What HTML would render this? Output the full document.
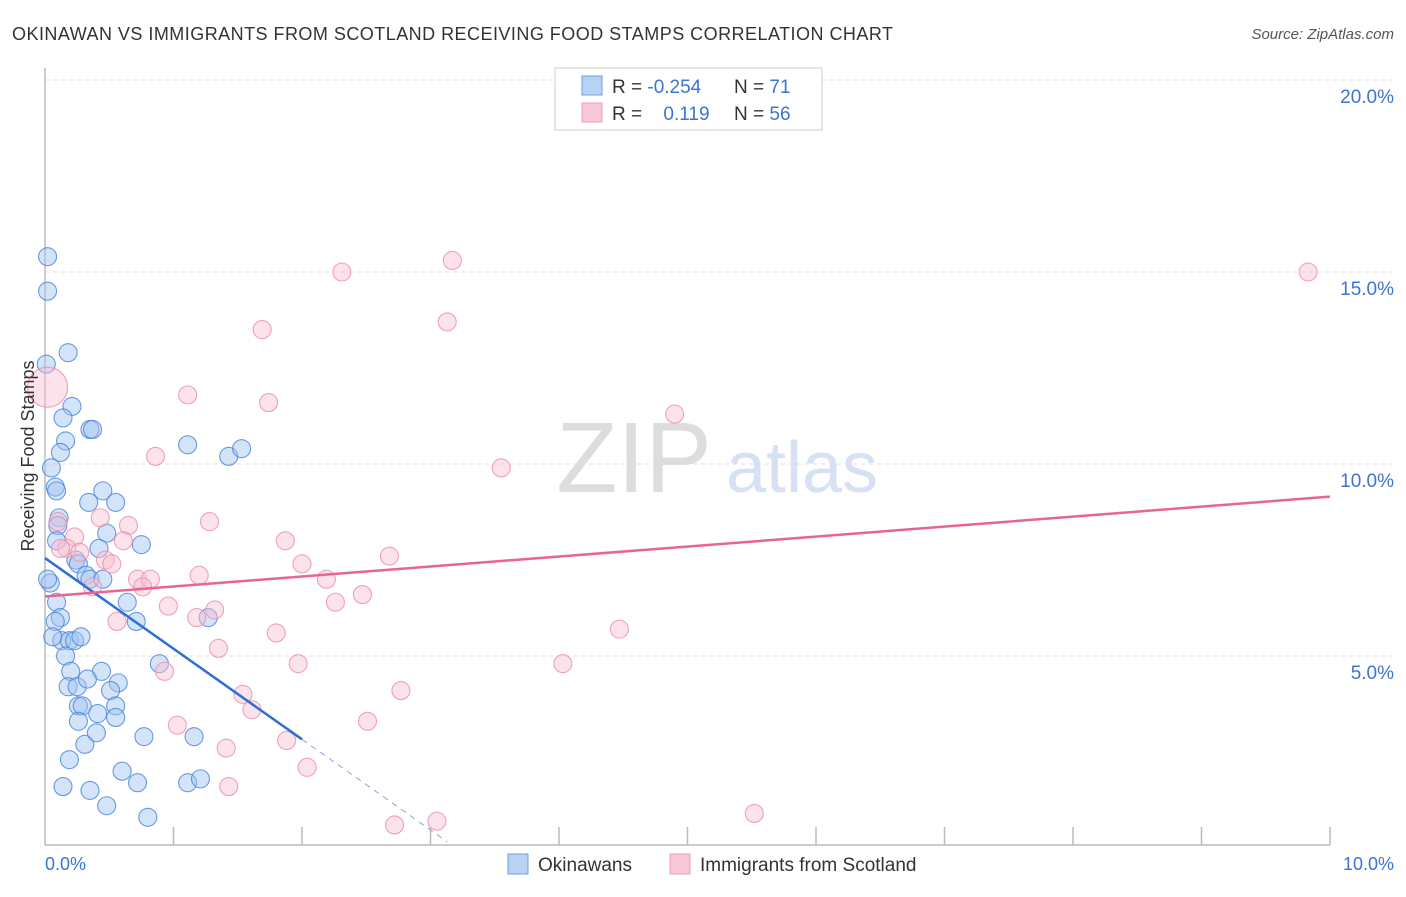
<!DOCTYPE html><html><head><meta charset="utf-8"><style>
body{margin:0;background:#fff;font-family:"Liberation Sans",sans-serif}
svg text{font-family:"Liberation Sans",sans-serif}
</style></head><body>
<svg id="c" width="1406" height="892">
<text x="12" y="40" font-size="18" fill="#333" textLength="881">OKINAWAN VS IMMIGRANTS FROM SCOTLAND RECEIVING FOOD STAMPS CORRELATION CHART</text>
<text x="1394" y="39" font-size="15" fill="#555" font-style="italic" text-anchor="end">Source: ZipAtlas.com</text>
<text x="634" y="492" font-size="100" fill="#ddd" font-family="Liberation Serif" text-anchor="middle">ZIP</text>
<text x="802" y="492" font-size="72" fill="#d6e2f3" text-anchor="middle">atlas</text>
<g id="grid"></g><g id="pts"></g><g id="lines"></g>
<text transform="translate(34,456) rotate(-90)" font-size="18" fill="#333" text-anchor="middle">Receiving Food Stamps</text>
<text x="45" y="870" font-size="18" fill="#3b74d4">0.0%</text>
<text x="1394" y="870" font-size="18" fill="#3b74d4" text-anchor="end">10.0%</text>
<g>
<rect x="555" y="68" width="267" height="62" fill="#fff" stroke="#ccc"/>
<rect x="582" y="76" width="20" height="19" fill="#b8d2f4" stroke="#6d9de0"/>
<rect x="582" y="103" width="20" height="19" fill="#f9c9d7" stroke="#ee9ab3"/>
<text x="612" y="93" font-size="19" fill="#333">R = <tspan fill="#3b74d4">-0.254</tspan></text>
<text x="734" y="93" font-size="19" fill="#333">N = <tspan fill="#3b74d4"> 71</tspan></text>
<text x="612" y="120" font-size="19" fill="#333">R = <tspan fill="#3b74d4" dx="16">0.119</tspan></text>
<text x="734" y="120" font-size="19" fill="#333">N = <tspan fill="#3b74d4">56</tspan></text>
</g>
<g>
<rect x="508" y="854" width="20" height="20" fill="#b8d2f4" stroke="#6d9de0"/>
<text x="538" y="871" font-size="19" fill="#333">Okinawans</text>
<rect x="670" y="854" width="20" height="20" fill="#f9c9d7" stroke="#ee9ab3"/>
<text x="700" y="871" font-size="19" fill="#333">Immigrants from Scotland</text>
</g>
</svg>
<script>
const yTicks=[5,10,15,20];
const xTicks=[0,1,2,3,4,5,6,7,8,9,10];
const blueX=[0.02,0.02,0.01,0.18,0.21,0.14,0.16,0.35,0.37,0.12,0.05,0.08,0.09,0.45,0.34,0.55,0.11,0.1,0.09,0.48,0.75,0.42,0.24,0.26,0.04,0.32,0.35,0.45,0.09,0.64,0.12,0.08,0.71,1.27,0.13,0.19,0.23,0.28,0.16,0.2,0.44,0.89,0.18,0.25,0.33,0.57,0.51,0.26,0.55,0.29,0.41,0.55,0.26,1.16,0.77,0.31,0.19,0.14,0.35,0.72,1.11,1.21,0.48,0.8,1.11,1.43,1.53,0.02,0.06,0.4,0.6];
const blueY=[15.4,14.5,12.6,12.9,11.5,11.2,10.6,10.9,10.9,10.3,9.9,9.4,9.3,9.3,9.0,9.0,8.6,8.4,8.0,8.2,7.9,7.8,7.5,7.4,6.9,7.1,7.0,7.0,6.4,6.4,6.0,5.9,5.9,6.0,5.4,5.4,5.4,5.5,5.0,4.6,4.6,4.8,4.2,4.2,4.4,4.3,4.1,3.7,3.7,3.7,3.5,3.4,3.3,2.9,2.9,2.7,2.3,1.6,1.5,1.7,1.7,1.8,1.1,0.8,10.5,10.2,10.4,7.0,5.5,3.0,2.0];
const pinkX=[0.02,2.31,3.17,9.83,1.69,3.13,1.11,1.74,4.9,0.86,3.55,0.43,0.1,1.28,0.65,0.23,0.61,1.87,0.17,0.27,0.47,0.52,2.68,2.0,1.2,0.72,0.82,2.19,0.76,0.37,2.47,2.26,0.96,1.32,1.18,0.56,1.8,4.47,1.35,1.97,4.03,0.93,2.77,1.54,1.61,1.03,2.51,1.41,1.88,2.04,1.43,2.72,3.05,5.52,0.12];
const pinkY=[12.0,15.0,15.3,15.0,13.5,13.7,11.8,11.6,11.3,10.2,9.9,8.6,8.5,8.5,8.4,8.1,8.0,8.0,7.8,7.7,7.5,7.4,7.6,7.4,7.1,7.0,7.0,7.0,6.8,6.8,6.6,6.4,6.3,6.2,6.0,5.9,5.6,5.7,5.2,4.8,4.8,4.6,4.1,4.0,3.6,3.2,3.3,2.6,2.8,2.1,1.6,0.6,0.7,0.9,7.8];
const pinkR=[20];
const blueFit=[7.55,-2.36];
const pinkFit=[6.55,0.26];
const X=v=>45+v*128.5, Y=v=>848-v*38.4;
const NS="http://www.w3.org/2000/svg";
function mk(p,t,a){const e=document.createElementNS(NS,t);for(const k in a)e.setAttribute(k,a[k]);p.appendChild(e);return e;}
const grid=document.getElementById('grid');
const ax=mk(grid,'line',{x1:45,y1:68,x2:45,y2:845,stroke:'#bbb','stroke-width':1.5});


const bx=mk(grid,'line',{x1:45,y1:845,x2:1330,y2:845,stroke:'#bbb','stroke-width':1.5});


yTicks.forEach(t=>{
 const g=mk(grid,'line',{x1:45,y1:Y(t),x2:1394,y2:Y(t),stroke:'#ddd','stroke-dasharray':'4,4'});
 
 
 const l=mk(grid,'text',{x:1394,y:Y(t)+23,'font-size':19,fill:'#3b74d4','text-anchor':'end'});
 l.textContent=t.toFixed(1)+'%';
 
 
});
xTicks.slice(1).forEach(t=>{
 const k=mk(grid,'line',{x1:X(t),y1:827,x2:X(t),y2:845,stroke:'#bbb','stroke-width':1.5});
 
 
});
const pts=document.getElementById('pts');
blueX.forEach((v,i)=>{
 const c=mk(pts,'circle',{cx:X(v),cy:Y(blueY[i]),r:9,fill:'rgba(160,196,240,0.45)',stroke:'rgba(70,130,220,0.8)','stroke-width':1.1});
 
 
});
pinkX.forEach((v,i)=>{
 const c=mk(pts,'circle',{cx:X(v),cy:Y(pinkY[i]),r:i===0?pinkR[0]:9,fill:'rgba(248,190,208,0.45)',stroke:'rgba(236,140,170,0.8)','stroke-width':1.1});
 
 
});
const L=document.getElementById('lines');
const f=(p,x)=>p[0]+p[1]*x;
const b1=mk(L,'line',{x1:X(0),y1:Y(f(blueFit,0)),x2:X(2),y2:Y(f(blueFit,2)),stroke:'#2f6fd3','stroke-width':2.5});


const b2=mk(L,'line',{x1:X(2),y1:Y(f(blueFit,2)),x2:X(3.13),y2:Y(f(blueFit,3.13)),stroke:'#8aa8d8','stroke-width':1,'stroke-dasharray':'6,5'});


const p1=mk(L,'line',{x1:X(0),y1:Y(f(pinkFit,0)),x2:X(10),y2:Y(f(pinkFit,10)),stroke:'#e8658f','stroke-width':2.5});


</script></body></html>
